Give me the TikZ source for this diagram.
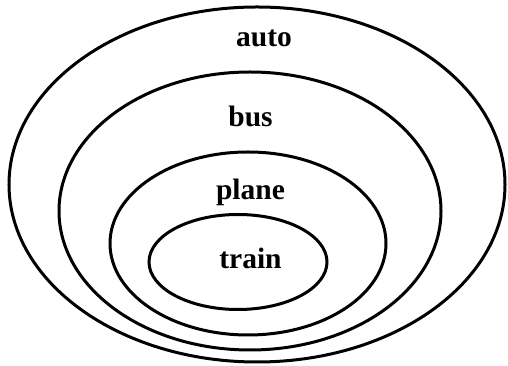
\documentclass[tikz,border=0pt]{standalone}
\usepackage{fontspec}
\setmainfont{Liberation Serif}
\usetikzlibrary{shapes.geometric}
\tikzset{
  ring/.style={draw=black, line width=3pt, ellipse, inner sep=0pt},
  lbl/.style={font=\bfseries\fontsize{29.5}{30}\selectfont, anchor=base, inner sep=0pt}
}
\begin{document}
\begin{tikzpicture}[x=1pt,y=1pt]
\useasboundingbox (0,0) rectangle (508,366);
\node[ring, minimum width=496pt, minimum height=355pt] (outer) at (257,181.5) {};
\node[ring, minimum width=382pt, minimum height=278pt] (busring) at (250,155) {};
\node[ring, minimum width=276pt, minimum height=183pt] (planering) at (248,122.5) {};
\node[ring, minimum width=178pt, minimum height=95pt] (trainring) at (238,104) {};
\node[lbl] (auto) at (264,319) {auto};
\node[lbl] (bus) at (250.5,239) {bus};
\node[lbl] (plane) at (250.5,166) {plane};
\node[lbl] (train) at (250.5,97) {train};
\end{tikzpicture}
\end{document}
